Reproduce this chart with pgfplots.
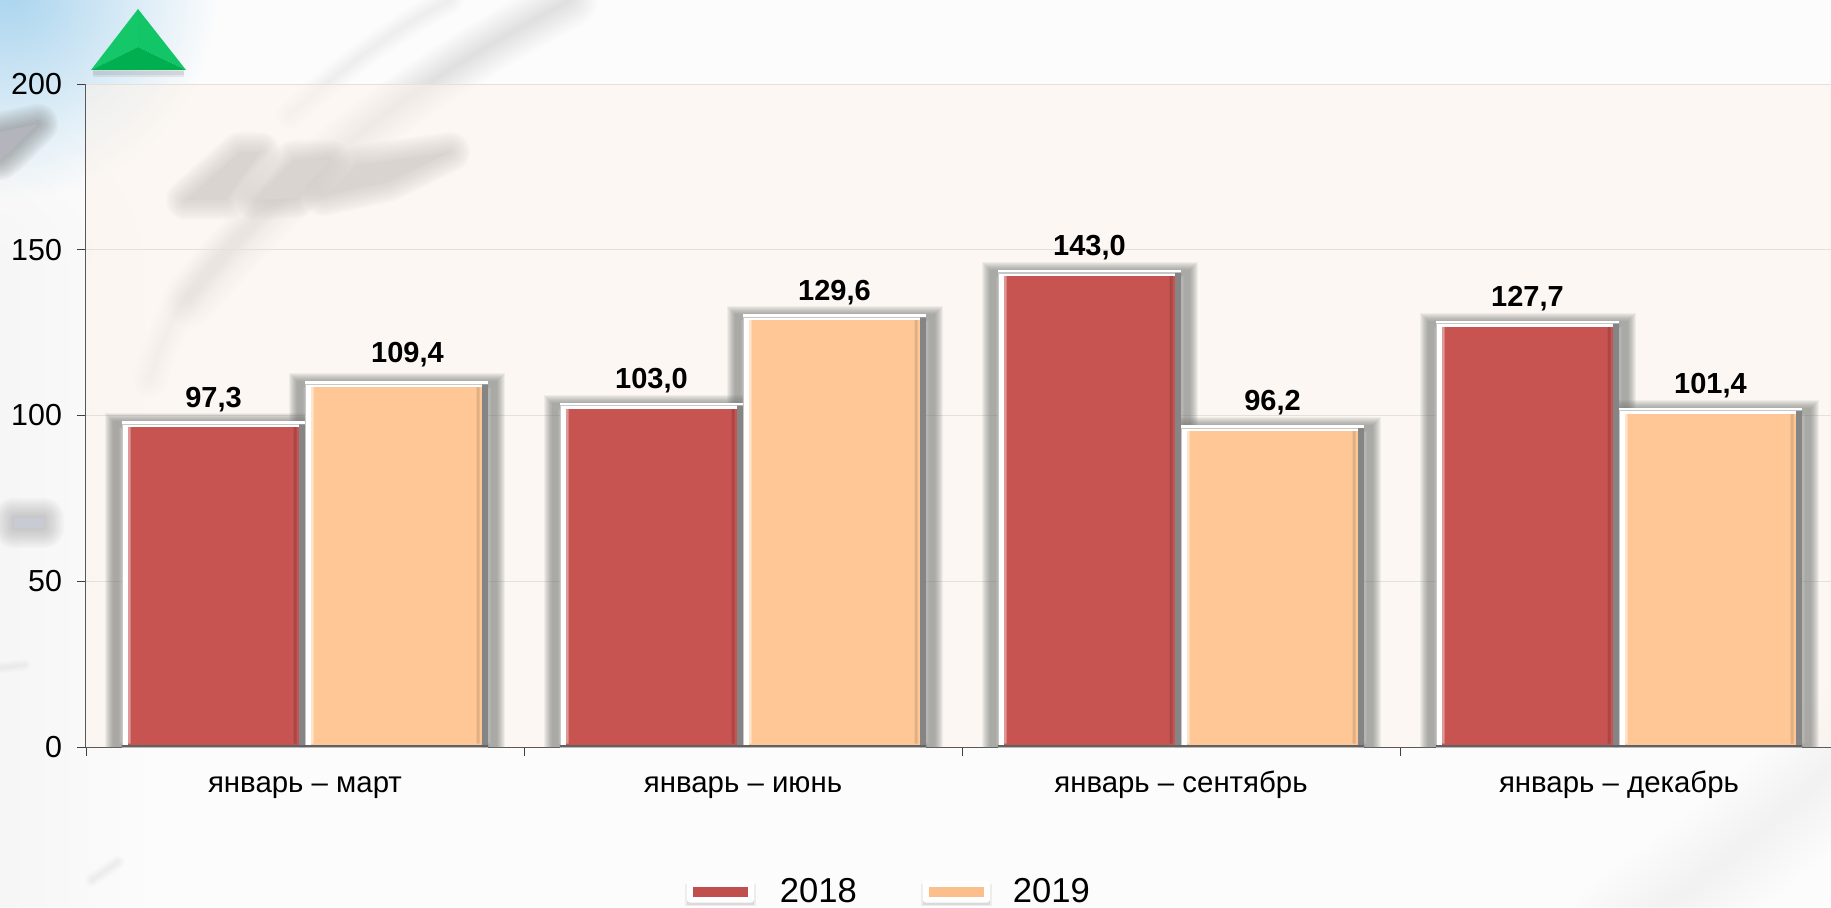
\documentclass[border=0pt]{standalone}
\usepackage{fontspec}
\setmainfont{Liberation Sans}
\usepackage{pgfplots}
\usepackage{pgfplotstable}
\pgfplotsset{compat=1.18}
\definecolor{cbg}{HTML}{FCFCFC}
\definecolor{cplot}{HTML}{FCF3EA}
\definecolor{cred}{HTML}{C85452}
\definecolor{cpeach}{HTML}{FEC795}
\definecolor{cgrid}{HTML}{E4E1DC}
\definecolor{cblue}{HTML}{A9D4EE}
\definecolor{triA}{HTML}{12C566}
\definecolor{triB}{HTML}{14C869}
\definecolor{triC}{HTML}{00AF50}
\definecolor{legA}{HTML}{C0504D}
\definecolor{legB}{HTML}{FBBF8C}
\definecolor{gPar}{HTML}{B0AFB1}
\definecolor{gWedge}{HTML}{B4B4BC}
\definecolor{gSmudge}{HTML}{C8CAD4}
% soft blob: stroke colour, opacity per pass, solid colour, path
\newcommand{\blob}[4]{%
  \foreach \w in {2,4,...,20}{\draw[#1,opacity=#2,line width=\w pt,line join=round,line cap=round] #4;}%
  \fill[#3] #4;%
}
\newcommand{\streak}[4]{%
  \foreach \w in {1,...,#3}{\draw[#1,opacity=#2,line width=\w pt,line join=round,line cap=round] #4;}%
}
\pgfplotstableread{
x v
0.5 97.3
1.5 103.0
2.5 143.0
3.5 127.7
}\tblA
\pgfplotstableread{
x v
0.5 109.4
1.5 129.6
2.5 96.2
3.5 101.4
}\tblB
\pgfplotstableread{
x v
0.5 1
1.5 1
2.5 1
3.5 1
}\tblBase
\pgfplotstableread{
x v
0.5 0.6
1.5 0.6
2.5 0.6
3.5 0.6
}\tblLine
% shadow layers: table, shift
\newcommand{\shadowlayer}[3]{%
  \addplot[forget plot,ybar,bar width=97pt,bar shift=#2pt,fill=none,draw=black!55,draw opacity=0.09,line width=#3pt] table[x=x,y=v] {#1};
}
\newcommand{\shadowlayers}[2]{%
  \shadowlayer{#1}{#2}{11}\shadowlayer{#1}{#2}{10}\shadowlayer{#1}{#2}{9}\shadowlayer{#1}{#2}{8}\shadowlayer{#1}{#2}{7}\shadowlayer{#1}{#2}{6}\shadowlayer{#1}{#2}{5}\shadowlayer{#1}{#2}{4}\shadowlayer{#1}{#2}{3}%
}
% bar layers: table, shift, fill, dark, light, shiftR, shiftL, shiftE
\newcommand{\barlayers}[8]{%
  \addplot[forget plot,ybar,bar width=88.5pt,bar shift=#2pt,fill=#3,draw=none] table[x=x,y=v] {#1};
  \addplot[forget plot,ybar,bar width=1.5pt,bar shift=#6pt,fill=#4,draw=none] table[x=x,y=v] {#1};
  \addplot[forget plot,ybar,bar width=1.5pt,bar shift=#7pt,fill=#5,draw=none] table[x=x,y=v] {#1};
  \addplot[forget plot,ybar,bar width=88.5pt,bar shift=#2pt,fill=none,draw=white,line width=3pt] table[x=x,y=v] {#1};
  \addplot[forget plot,ybar,bar width=85.5pt,bar shift=#2pt,fill=#3,draw=none] table[x=x,y=v] {\tblBase};
  \addplot[forget plot,ybar,bar width=91.2pt,bar shift=#2pt,fill=none,draw=black!22,line width=0.6pt] table[x=x,y=v] {#1};
  \addplot[forget plot,ybar,bar width=3pt,bar shift=#8pt,fill=black!48,draw=none] table[x=x,y=v] {#1};
  \addplot[forget plot,ybar,bar width=91.5pt,bar shift=#2pt,fill=black!62,draw=none] table[x=x,y=v] {\tblLine};
}
\begin{document}
\begin{tikzpicture}
\path[use as bounding box] (0,0) rectangle (915.5pt,453.5pt);
\begin{scope}[shift={(0,453.5pt)},x=0.5pt,y=-0.5pt]
  \clip (0,0) rectangle (1831,907);
  \fill[cbg] (0,0) rectangle (1831,907);
  % blue corner
  \shade[inner color=cblue,outer color=cbg] (10,-10) circle (210);
  % left haze
  \foreach \w in {25,50,...,175}{\draw[black!25,opacity=0.012,line width=\w pt,line cap=round] (-30,280)--(-30,950);}
  % grey wedge at the left
  \blob{black!50}{0.07}{gWedge}{(0,132)--(38,124)--(10,152)--(0,160)--cycle}
  % diagonal streaks
  \streak{black!45}{0.009}{14}{(450,0) .. controls (400,25) and (340,70) .. (290,115)}
  \streak{black!25}{0.008}{28}{(570,0) .. controls (500,40) and (350,110) .. (190,300)}
  \streak{black!20}{0.006}{18}{(150,380) .. controls (170,300) and (220,250) .. (270,200)}
  % parallelograms
  \blob{black!50}{0.07}{gPar}{(186,200)--(240,152)--(260,152)--(226,200)--cycle}
  \blob{black!50}{0.07}{gPar}{(256,200)--(294,160)--(330,160)--(296,198)--cycle}
  \blob{black!50}{0.07}{gPar}{(324,196)--(358,165)--(450,152)--(388,182)--cycle}
  % left smudges
  \blob{black!50}{0.045}{gSmudge}{(14,518)--(44,518)--(44,528)--(14,528)--cycle}
  \streak{black!50}{0.012}{6}{(0,668)--(25,665)}
  \streak{black!50}{0.012}{7}{(92,880)--(118,862)}
  % lower right haze
  \foreach \w in {6,12,...,60}{\draw[green!20!black!25,opacity=0.014,line width=\w pt,line cap=round] (1630,930) .. controls (1720,870) and (1800,800) .. (1860,740);}
  % triangle icon
  \foreach \w in {4,2}{\draw[black!60,opacity=0.12,line width=\w pt] (93,73)--(184,73);}
  \fill[triA] (138,9)--(186,70)--(138,47)--cycle;
  \fill[triB] (138,9)--(91,70)--(138,47)--cycle;
  \fill[triC] (91,70)--(138,47)--(186,70)--cycle;
\end{scope}
\begin{axis}[
  at={(43pt,80pt)},anchor=south west,
  scale only axis,width=872.5pt,height=331.5pt,
  xmin=0,xmax=3.984,ymin=0,ymax=200,
  axis lines=left,
  axis line style={-,draw=black!65,line width=0.5pt},
  axis background/.style={fill=cplot,fill opacity=0.55},
  ytick={0,50,100,150,200},
  xtick={0.5,1.5,2.5,3.5},
  xticklabels={январь – март,январь – июнь,январь – сентябрь,январь – декабрь},
  minor xtick={0,1,2,3},
  major tick length=4.5pt,minor tick length=4.5pt,
  tick align=outside,
  major x tick style={draw=none},
  minor x tick style={draw=black!75,line width=0.4pt},
  y tick style={draw=black!75,line width=0.4pt},
  xmajorgrids=false,ymajorgrids=true,
  major y grid style={draw=cgrid,line width=0.5pt},
  /pgf/number format/assume math mode=true,
  yticklabel style={font=\fontsize{15.2}{16}\selectfont,anchor=east,xshift=-4pt},
  xticklabel style={font=\fontsize{14.7}{16}\selectfont,anchor=base,yshift=-18pt},
  legend columns=2,
  legend cell align=left,
  legend style={at={(0.343,-0.218)},anchor=west,draw=none,fill=none,
    font=\fontsize{17.3}{18}\selectfont,
    /tikz/every even column/.style={column sep=31pt},
    inner sep=0pt,nodes={inner sep=1pt}},
]
\shadowlayers{\tblA}{-45.75}
\shadowlayers{\tblB}{45.75}
\barlayers{\tblA}{-45.75}{cred}{cred!85!black}{cred!60!white}{-5}{-88}{-1.5}
\barlayers{\tblB}{45.75}{cpeach}{cpeach!88!black}{cpeach!50!white}{86.5}{3.5}{90}
% legend carriers
\addplot[ybar,bar width=0pt,draw=none,fill=none,
  legend image code/.code={%
    \fill[black,opacity=0.06] (-1pt,-7pt) rectangle (34.5pt,4pt);
    \fill[black,opacity=0.08] (0pt,-6.5pt) rectangle (33.5pt,4pt);
    \fill[white,rounded corners=1.5pt] (0pt,-5.5pt) rectangle (33.5pt,5.5pt);
    \fill[legA] (3pt,-2.5pt) rectangle (30.5pt,2.5pt);
    \path (45.5pt,0pt);}]
  coordinates {(0.5,0)};
\addlegendentry{2018}
\addplot[ybar,bar width=0pt,draw=none,fill=none,
  legend image code/.code={%
    \fill[black,opacity=0.06] (-1pt,-7pt) rectangle (34.5pt,4pt);
    \fill[black,opacity=0.08] (0pt,-6.5pt) rectangle (33.5pt,4pt);
    \fill[white,rounded corners=1.5pt] (0pt,-5.5pt) rectangle (33.5pt,5.5pt);
    \fill[legB] (3pt,-2.5pt) rectangle (30.5pt,2.5pt);
    \path (44pt,0pt);}]
  coordinates {(0.5,0)};
\addlegendentry{2019}
% value labels
\addplot[forget plot,ybar,bar width=88.5pt,bar shift=-45.75pt,draw=none,fill=none,
  nodes near coords,
  nodes near coords style={anchor=center,xshift=-45.75pt,yshift=12.5pt,text=black,font=\bfseries\fontsize{14.5}{16}\selectfont,
    /pgf/number format/.cd,fixed,fixed zerofill,precision=1,use comma,assume math mode=true}]
  table[x=x,y=v] {\tblA};
\addplot[forget plot,ybar,bar width=88.5pt,bar shift=45.75pt,draw=none,fill=none,
  nodes near coords,
  coordinate style/.condition={x<1}{xshift=5.5pt,yshift=2.5pt},
  nodes near coords style={anchor=center,xshift=45.75pt,yshift=12.5pt,text=black,font=\bfseries\fontsize{14.5}{16}\selectfont,
    /pgf/number format/.cd,fixed,fixed zerofill,precision=1,use comma,assume math mode=true}]
  table[x=x,y=v] {\tblB};
\end{axis}
\end{tikzpicture}
\end{document}
